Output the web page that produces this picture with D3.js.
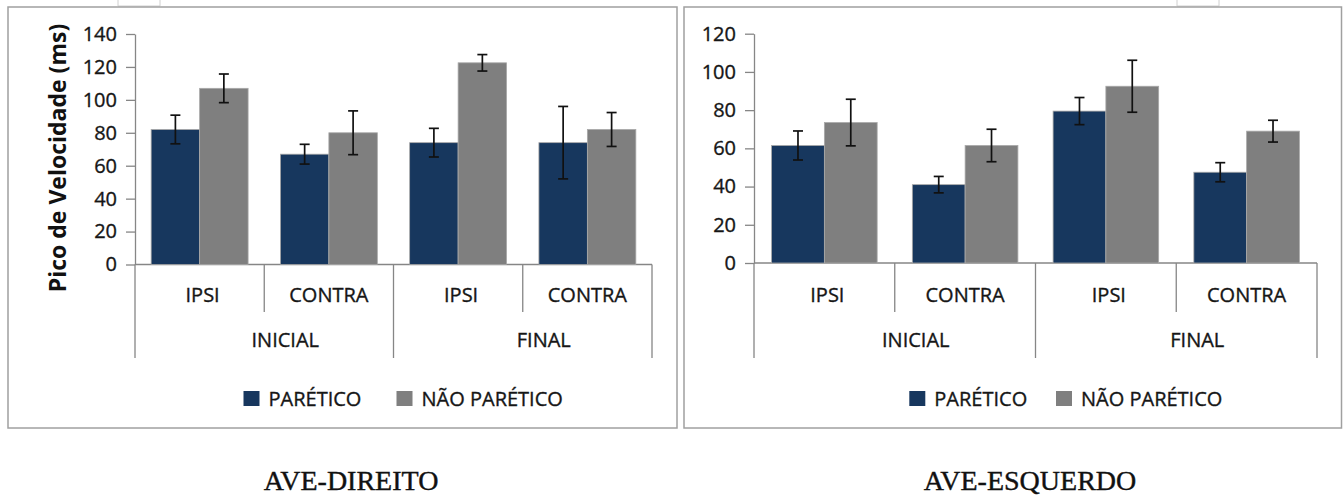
<!DOCTYPE html>
<html>
<head>
<meta charset="utf-8">
<script src="https://cdn.jsdelivr.net/npm/d3@7"></script>
<style>
	body { margin: 0; background: #fff; }
	svg { display: block; }
	text { font-family: "Open Sans", sans-serif; fill: #161616; stroke: #161616; stroke-width: 0.35; }
	.y-axis .domain, .y-axis line { stroke: #868686; stroke-width: 1.3; }
	.y-axis text { font-size: 20px; }
</style>
</head>
<body>
<div id="chart"></div>
<script>

var categorias = ["IPSI", "CONTRA", "IPSI", "CONTRA"];
var grupos = ["INICIAL", "FINAL"];
var series = ["PARÉTICO", "NÃO PARÉTICO"];
var cores = ["#17375e", "#7f7f7f"];

var direitoParetico = [82, 67, 74, 74];
var direitoPareticoErro = [8.7, 6, 8.7, 22];
var direitoNaoParetico = [107, 80, 122.5, 82];
var direitoNaoPareticoErro = [8.7, 13.3, 5, 10.3];

var esquerdoParetico = [61.5, 41, 79.5, 47.5];
var esquerdoPareticoErro = [7.6, 4.3, 7.1, 5];
var esquerdoNaoParetico = [73.5, 61.5, 92.5, 69];
var esquerdoNaoPareticoErro = [12.2, 8.5, 13.6, 5.7];

var ticksDireito = [0, 20, 40, 60, 80, 100, 120, 140];
var ticksEsquerdo = [0, 20, 40, 60, 80, 100, 120];

var titulos = ["AVE-DIREITO", "AVE-ESQUERDO"];
var tituloEixoY = "Pico de Velocidade (ms)";

var svg = d3.select('#chart')
	.append('svg')
	.attr('width', 1343)
	.attr('height', 497);

// sobras do recorte no topo
svg.append('path')
	.attr('d', 'M118,0V6H160V0 M1177,0V6H1219V0')
	.attr('fill', 'none')
	.attr('stroke', '#d0d0d0')
	.attr('stroke-width', 1);

function drawChart(chart) {

	var g = svg.append('g');

	g.append('rect')
		.attr('x', chart.frame[0])
		.attr('y', chart.frame[1])
		.attr('width', chart.frame[2])
		.attr('height', chart.frame[3])
		.attr('fill', '#fff')
		.attr('stroke', '#a0a0a0')
		.attr('stroke-width', 1.5);

	var yScale = d3.scaleLinear()
		.domain([0, d3.max(chart.ticks)])
		.range([chart.y0, chart.y1]);

	var xScale = d3.scaleBand()
		.domain(d3.range(categorias.length))
		.range([chart.x0, chart.x1]);

	var bw = xScale.bandwidth();

	var yAxis = d3.axisLeft(yScale)
		.tickValues(chart.ticks)
		.tickSize(9)
		.tickSizeOuter(0)
		.tickPadding(9);

	g.append('g')
		.attr('class', 'y-axis')
		.attr('transform', 'translate(' + chart.x0 + ',0)')
		.call(yAxis);

	// eixo de categorias
	var bounds = d3.range(categorias.length + 1).map(function (i) {
		return i < categorias.length ? xScale(i) : chart.x1;
	});

	g.append('line')
		.attr('x1', chart.x0)
		.attr('x2', chart.x1)
		.attr('y1', yScale(0))
		.attr('y2', yScale(0))
		.attr('stroke', '#868686')
		.attr('stroke-width', 1.3);

	g.selectAll('.divisor')
		.data(bounds)
		.enter()
		.append('line')
		.attr('class', 'divisor')
		.attr('x1', function (d) { return d; })
		.attr('x2', function (d) { return d; })
		.attr('y1', yScale(0))
		.attr('y2', function (d, i) { return i % 2 == 0 ? 358 : 312; })
		.attr('stroke', '#868686')
		.attr('stroke-width', 1.3);

	g.selectAll('.cat')
		.data(categorias)
		.enter()
		.append('text')
		.attr('class', 'cat')
		.attr('x', function (d, i) { return xScale(i) + bw / 2 + (i % 2 == 0 ? 3 : 0); })
		.attr('y', 294)
		.attr('dominant-baseline', 'central')
		.attr('text-anchor', 'middle')
		.style('font-size', '20px')
		.text(function (d) { return d; });

	g.selectAll('.grupo')
		.data(grupos)
		.enter()
		.append('text')
		.attr('class', 'grupo')
		.attr('x', function (d, i) { return xScale(i * 2) + bw + 21; })
		.attr('y', 339)
		.attr('dominant-baseline', 'central')
		.attr('text-anchor', 'middle')
		.style('font-size', '20px')
		.text(function (d) { return d; });

	// barras
	chart.values.forEach(function (vals, s) {
		var barW = bw * 0.375;
		var off = bw * 0.125 + s * barW;

		g.selectAll('.bar-' + s)
			.data(vals)
			.enter()
			.append('rect')
			.attr('class', 'bar-' + s)
			.attr('x', function (d, i) { return xScale(i) + off; })
			.attr('y', function (d) { return yScale(d); })
			.attr('width', barW)
			.attr('height', function (d) { return yScale(0) - yScale(d); })
			.attr('fill', cores[s])
			.attr('stroke', '#a8a8a8')
			.attr('stroke-width', 0.8);

		var errs = chart.errors[s];
		var eb = g.selectAll('.err-' + s)
			.data(vals)
			.enter()
			.append('g')
			.attr('class', 'err-' + s)
			.attr('stroke', '#111')
			.attr('stroke-width', 1.7);

		eb.append('line')
			.attr('x1', function (d, i) { return xScale(i) + off + barW / 2; })
			.attr('x2', function (d, i) { return xScale(i) + off + barW / 2; })
			.attr('y1', function (d, i) { return yScale(d + errs[i]); })
			.attr('y2', function (d, i) { return yScale(d - errs[i]); });

		[1, -1].forEach(function (sign) {
			eb.append('line')
				.attr('x1', function (d, i) { return xScale(i) + off + barW / 2 - 5; })
				.attr('x2', function (d, i) { return xScale(i) + off + barW / 2 + 5; })
				.attr('y1', function (d, i) { return yScale(d + sign * errs[i]); })
				.attr('y2', function (d, i) { return yScale(d + sign * errs[i]); });
		});
	});

	// legenda
	var leg = g.selectAll('.legend')
		.data(series)
		.enter()
		.append('g')
		.attr('class', 'legend')
		.attr('transform', function (d, i) { return 'translate(' + chart.legend[i] + ',398.5)'; });

	leg.append('rect')
		.attr('x', 0)
		.attr('y', -7.5)
		.attr('width', 16)
		.attr('height', 15)
		.attr('fill', function (d, i) { return cores[i]; });

	leg.append('text')
		.attr('x', 25)
		.attr('y', 0)
		.attr('dominant-baseline', 'central')
		.style('font-size', '20px')
		.text(function (d) { return d; });

	if (chart.yTitle) {
		g.append('text')
			.attr('transform', 'translate(57,158) rotate(-90)')
			.attr('text-anchor', 'middle')
			.attr('dominant-baseline', 'central')
			.style('font-size', '23px')
			.style('font-weight', 'bold')
			.style('stroke-width', 0)
			.style('fill', '#111')
			.text(chart.yTitle);
	}

	svg.append('text')
		.attr('x', chart.titleX)
		.attr('y', 490)
		.attr('text-anchor', 'middle')
		.style('font-family', '"Liberation Serif", "Times New Roman", serif')
		.style('font-size', '28px')
		.style('fill', '#111')
		.style('stroke', '#111')
		.style('stroke-width', 0.4)
		.text(chart.title);
}

drawChart({
	frame: [8, 7, 669, 421],
	x0: 135, x1: 652,
	y0: 264.5, y1: 34,
	ticks: ticksDireito,
	values: [direitoParetico, direitoNaoParetico],
	errors: [direitoPareticoErro, direitoNaoPareticoErro],
	legend: [243.5, 396.5],
	yTitle: tituloEixoY,
	title: titulos[0],
	titleX: 351
});

drawChart({
	frame: [684, 7, 657.5, 421],
	x0: 754, x1: 1317,
	y0: 263, y1: 33.7,
	ticks: ticksEsquerdo,
	values: [esquerdoParetico, esquerdoNaoParetico],
	errors: [esquerdoPareticoErro, esquerdoNaoPareticoErro],
	legend: [909.3, 1056],
	yTitle: null,
	title: titulos[1],
	titleX: 1030
});

</script>
</body>
</html>
